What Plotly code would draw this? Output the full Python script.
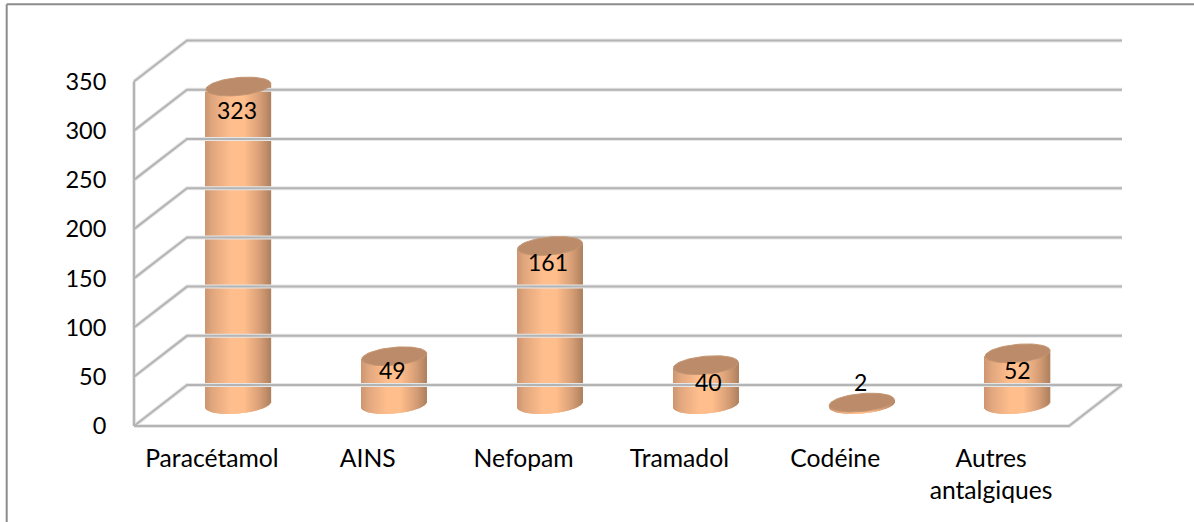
import numpy as np
import plotly.graph_objects as go

categories = ["Paracétamol", "AINS", "Nefopam", "Tramadol", "Codéine", "Autres<br>antalgiques"]
values = [323, 49, 161, 40, 2, 52]
y_ticks = [0, 50, 100, 150, 200, 250, 300, 350]
label_yshift = [-23, -14, -16, -17, 21, -17]
label_xshift = [-1, -2, -2, 3, -1, 0]

W, H = 1194, 522
PAD = 10
L, R, T, B = 134 - PAD, 1122 + PAD, 40.5 - PAD, 426 + PAD
PX_PER_CAT = (1069 - 134) / 6
PX_PER_VAL = (426 - 81) / 350
DX = 53 / PX_PER_CAT
DY = 41 / PX_PER_VAL
BASE = 21.5 / PX_PER_VAL
A = 32.5 / PX_PER_CAT
EB = 9 / PX_PER_VAL
TILT = 2.8 / PX_PER_VAL
N = 65


def lerp(stops, t):
    xs = [s[0] for s in stops]
    return "rgb({},{},{})".format(*[int(round(np.interp(t, xs, [s[1][i] for s in stops]))) for i in range(3)])


def paper_x(px):
    return (px - L) / (R - L)


def paper_y(py):
    return (B - py) / (B - T)


STOPS = [(0, (205, 150, 112)), (0.12, (226, 167, 126)), (0.4, (255, 190, 140)),
         (0.6, (255, 190, 140)), (0.85, (214, 158, 118)), (1, (176, 130, 96))]

fig = go.Figure()

# walls and floor
gx, gy = [], []
for v in y_ticks:
    gx += [0, DX, 6 + DX, None]
    gy += [v, v + DY, v + DY, None]
gx += [0, 0, None, 0, 6, 6 + DX]
gy += [0, y_ticks[-1], None, 0, 0, DY]
fig.add_trace(go.Scatter(x=gx, y=gy, mode="lines",
                         line=dict(color="#E6E6E6", width=4), hoverinfo="skip"))
fig.add_trace(go.Scatter(x=gx, y=gy, mode="lines",
                         line=dict(color="#B4B4B4", width=2), hoverinfo="skip"))

# cylinder bodies: vertical strips that follow the lower rim
us = (np.arange(N) + 0.5) / N * 2 - 1
sx, sbase, sh, scol = [], [], [], []
for i, v in enumerate(values):
    for u in us:
        cx = i + 0.5 + DX / 2
        low = TILT * u - EB * np.sqrt(1 - u * u)
        sx.append(cx + A * u)
        sbase.append(BASE + low)
        sh.append(v + TILT * u - low)
        scol.append(lerp(STOPS, (u + 1) / 2))
fig.add_trace(go.Bar(x=sx, y=sh, base=sbase, width=2 * A / N * 1.5,
                     marker=dict(color=scol, line=dict(width=0)), hoverinfo="skip"))

# cylinder tops
th = np.linspace(0, 2 * np.pi, 73)
for i, v in enumerate(values):
    cx = i + 0.5 + DX / 2
    fig.add_trace(go.Scatter(x=cx + A * np.cos(th),
                             y=BASE + v + EB * np.sin(th) + TILT * np.cos(th),
                             mode="lines", fill="toself", fillcolor="#BC8C6A",
                             line=dict(color="#C49672", width=1), hoverinfo="skip"))

for i, v in enumerate(values):
    fig.add_annotation(x=i + 0.5 + DX / 2, y=BASE + v, text=str(v), showarrow=False,
                       xshift=label_xshift[i], yshift=label_yshift[i],
                       font=dict(family="Lato", size=23, color="#000"))

x_left, y_top = paper_x(6.7), paper_y(3.7)
fig.update_layout(
    width=W, height=H, autosize=False, showlegend=False, barmode="overlay",
    paper_bgcolor="white", plot_bgcolor="rgba(0,0,0,0)",
    margin=dict(l=L, r=W - R, t=T, b=H - B, pad=0),
    font=dict(family="Lato", size=23, color="#000"),
    xaxis=dict(range=[-PAD / PX_PER_CAT, 6 + DX + PAD / PX_PER_CAT], tickmode="array",
               tickvals=[i + 0.5 for i in range(6)],
               ticktext=categories, showgrid=False, zeroline=False, showline=False,
               ticks="outside", ticklen=0, tickwidth=0, tickcolor="rgba(0,0,0,0)", tickangle=0,
               tickfont=dict(family="Lato", size=24.7, color="#000")),
    yaxis=dict(range=[-PAD / PX_PER_VAL, (426 - T) / PX_PER_VAL], tickmode="array", tickvals=y_ticks,
               showgrid=False, zeroline=False, showline=False,
               ticks="outside", ticklen=12, tickcolor="rgba(0,0,0,0)",
               tickfont=dict(family="Lato", size=23.5, color="#000")),
    shapes=[
        dict(type="line", xref="paper", yref="paper", layer="below",
             x0=x_left, x1=paper_x(W), y0=y_top, y1=y_top,
             line=dict(color="#8C8C8C", width=2)),
        dict(type="line", xref="paper", yref="paper", layer="below",
             x0=x_left, x1=x_left, y0=y_top, y1=paper_y(H),
             line=dict(color="#8C8C8C", width=2)),
    ],
)

fig.write_html("out.html", config=dict(displayModeBar=False),
               post_script="document.body.style.margin='0';document.documentElement.style.overflow='hidden';")
